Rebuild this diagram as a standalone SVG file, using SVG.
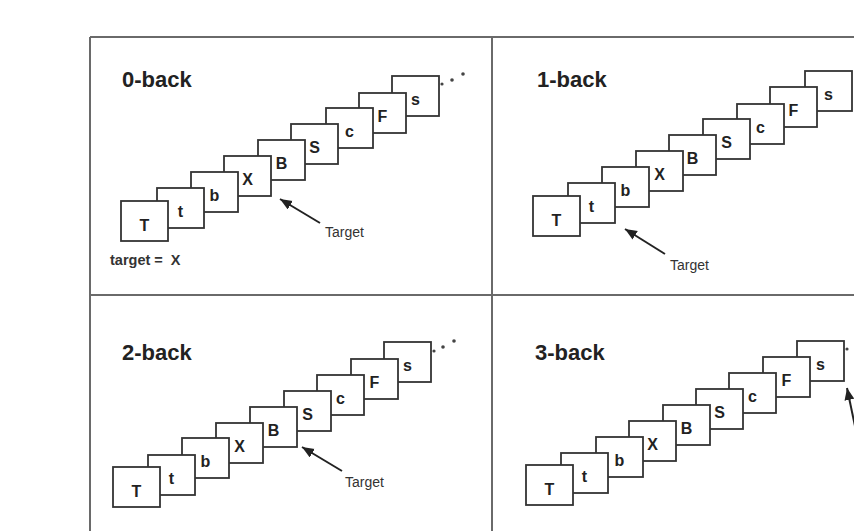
<svg xmlns="http://www.w3.org/2000/svg" width="854" height="531" viewBox="0 0 854 531">
<defs>
<style>
.frame{stroke:#6a6a6a;stroke-width:2;fill:none}
.card rect{fill:#fff;stroke:#333;stroke-width:1.8}
.card text{font-family:"Liberation Sans",Arial,sans-serif;font-weight:bold;font-size:16px;fill:#222;text-anchor:middle}
.title{font-family:"Liberation Sans",Arial,sans-serif;font-weight:bold;font-size:22px;fill:#222}
.lbl{font-family:"Liberation Sans",Arial,sans-serif;font-size:14px;fill:#333}
.lblb{font-family:"Liberation Sans",Arial,sans-serif;font-weight:bold;font-size:14.5px;fill:#333;white-space:pre}
.arrow{stroke:#222;stroke-width:2;fill:none;marker-end:url(#ah)}
.dot{fill:#444}
</style>
<marker id="ah" markerUnits="userSpaceOnUse" markerWidth="14" markerHeight="12" refX="12" refY="5" orient="auto">
<path d="M0,0 L12,5 L0,10 Z" fill="#222"/>
</marker>
</defs>
<rect width="854" height="531" fill="#fff"/>
<g id="frame">
<line class="frame" x1="90" y1="37" x2="854" y2="37"/>
<line class="frame" x1="90" y1="37" x2="90" y2="531"/>
<line class="frame" x1="492" y1="37" x2="492" y2="531"/>
<line class="frame" x1="90" y1="295" x2="854" y2="295"/>
</g>

<g id="panel-0back">
<text class="title" x="122" y="87">0-back</text>
<g id="p0-s" class="card" transform="translate(392,76)"><rect width="47" height="40"/><text x="23.5" y="29">s</text></g>
<g id="p0-F" class="card" transform="translate(359,93)"><rect width="47" height="40"/><text x="23.5" y="29">F</text></g>
<g id="p0-c" class="card" transform="translate(326,108)"><rect width="47" height="40"/><text x="23.5" y="29">c</text></g>
<g id="p0-S" class="card" transform="translate(291,124)"><rect width="47" height="40"/><text x="23.5" y="29">S</text></g>
<g id="p0-B" class="card" transform="translate(258,140)"><rect width="47" height="40"/><text x="23.5" y="29">B</text></g>
<g id="p0-X" class="card" transform="translate(224,156)"><rect width="47" height="40"/><text x="23.5" y="29">X</text></g>
<g id="p0-b" class="card" transform="translate(191,172)"><rect width="47" height="40"/><text x="23.5" y="29">b</text></g>
<g id="p0-t" class="card" transform="translate(157,188)"><rect width="47" height="40"/><text x="23.5" y="29">t</text></g>
<g id="p0-T" class="card" transform="translate(121,201)"><rect width="47" height="40"/><text x="23.5" y="30">T</text></g>
<circle class="dot" cx="442" cy="84" r="1.6"/><circle class="dot" cx="452" cy="80" r="1.8"/><circle class="dot" cx="463" cy="74" r="1.8"/>
<text class="lbl" x="325" y="237">Target</text>
<text class="lblb" x="110" y="265">target =  X</text>
</g>

<g id="panel-1back">
<text class="title" x="537" y="87">1-back</text>
<g id="p1-s" class="card" transform="translate(805,71)"><rect width="47" height="40"/><text x="23.5" y="29">s</text></g>
<g id="p1-F" class="card" transform="translate(770,87)"><rect width="47" height="40"/><text x="23.5" y="29">F</text></g>
<g id="p1-c" class="card" transform="translate(737,104)"><rect width="47" height="40"/><text x="23.5" y="29">c</text></g>
<g id="p1-S" class="card" transform="translate(703,119)"><rect width="47" height="40"/><text x="23.5" y="29">S</text></g>
<g id="p1-B" class="card" transform="translate(669,135)"><rect width="47" height="40"/><text x="23.5" y="29">B</text></g>
<g id="p1-X" class="card" transform="translate(636,151)"><rect width="47" height="40"/><text x="23.5" y="29">X</text></g>
<g id="p1-b" class="card" transform="translate(602,167)"><rect width="47" height="40"/><text x="23.5" y="29">b</text></g>
<g id="p1-t" class="card" transform="translate(568,183)"><rect width="47" height="40"/><text x="23.5" y="29">t</text></g>
<g id="p1-T" class="card" transform="translate(533,196)"><rect width="47" height="40"/><text x="23.5" y="30">T</text></g>
<text class="lbl" x="670" y="270">Target</text>
</g>

<g id="panel-2back">
<text class="title" x="122" y="360">2-back</text>
<g id="p2-s" class="card" transform="translate(384,342)"><rect width="47" height="40"/><text x="23.5" y="29">s</text></g>
<g id="p2-F" class="card" transform="translate(351,359)"><rect width="47" height="40"/><text x="23.5" y="29">F</text></g>
<g id="p2-c" class="card" transform="translate(317,375)"><rect width="47" height="40"/><text x="23.5" y="29">c</text></g>
<g id="p2-S" class="card" transform="translate(284,391)"><rect width="47" height="40"/><text x="23.5" y="29">S</text></g>
<g id="p2-B" class="card" transform="translate(250,407)"><rect width="47" height="40"/><text x="23.5" y="29">B</text></g>
<g id="p2-X" class="card" transform="translate(216,423)"><rect width="47" height="40"/><text x="23.5" y="29">X</text></g>
<g id="p2-b" class="card" transform="translate(182,438)"><rect width="47" height="40"/><text x="23.5" y="29">b</text></g>
<g id="p2-t" class="card" transform="translate(148,455)"><rect width="47" height="40"/><text x="23.5" y="29">t</text></g>
<g id="p2-T" class="card" transform="translate(113,467)"><rect width="47" height="40"/><text x="23.5" y="30">T</text></g>
<circle class="dot" cx="434" cy="351" r="1.6"/><circle class="dot" cx="443" cy="347" r="1.8"/><circle class="dot" cx="454" cy="341" r="1.8"/>
<text class="lbl" x="345" y="487">Target</text>
</g>

<g id="panel-3back">
<text class="title" x="535" y="360">3-back</text>
<g id="p3-s" class="card" transform="translate(797,341)"><rect width="47" height="40"/><text x="23.5" y="29">s</text></g>
<g id="p3-F" class="card" transform="translate(763,357)"><rect width="47" height="40"/><text x="23.5" y="29">F</text></g>
<g id="p3-c" class="card" transform="translate(729,373)"><rect width="47" height="40"/><text x="23.5" y="29">c</text></g>
<g id="p3-S" class="card" transform="translate(696,389)"><rect width="47" height="40"/><text x="23.5" y="29">S</text></g>
<g id="p3-B" class="card" transform="translate(663,405)"><rect width="47" height="40"/><text x="23.5" y="29">B</text></g>
<g id="p3-X" class="card" transform="translate(629,421)"><rect width="47" height="40"/><text x="23.5" y="29">X</text></g>
<g id="p3-b" class="card" transform="translate(596,437)"><rect width="47" height="40"/><text x="23.5" y="29">b</text></g>
<g id="p3-t" class="card" transform="translate(561,453)"><rect width="47" height="40"/><text x="23.5" y="29">t</text></g>
<g id="p3-T" class="card" transform="translate(526,465)"><rect width="47" height="40"/><text x="23.5" y="30">T</text></g>
<circle class="dot" cx="847" cy="349" r="1.6"/>
</g>

<g id="connectors">
<line class="arrow" x1="320" y1="223" x2="280" y2="199"/>
<line class="arrow" x1="665" y1="254" x2="625" y2="229"/>
<line class="arrow" x1="342" y1="471" x2="302" y2="447"/>
<line class="arrow" x1="860" y1="450" x2="847" y2="388"/>
</g>
</svg>
